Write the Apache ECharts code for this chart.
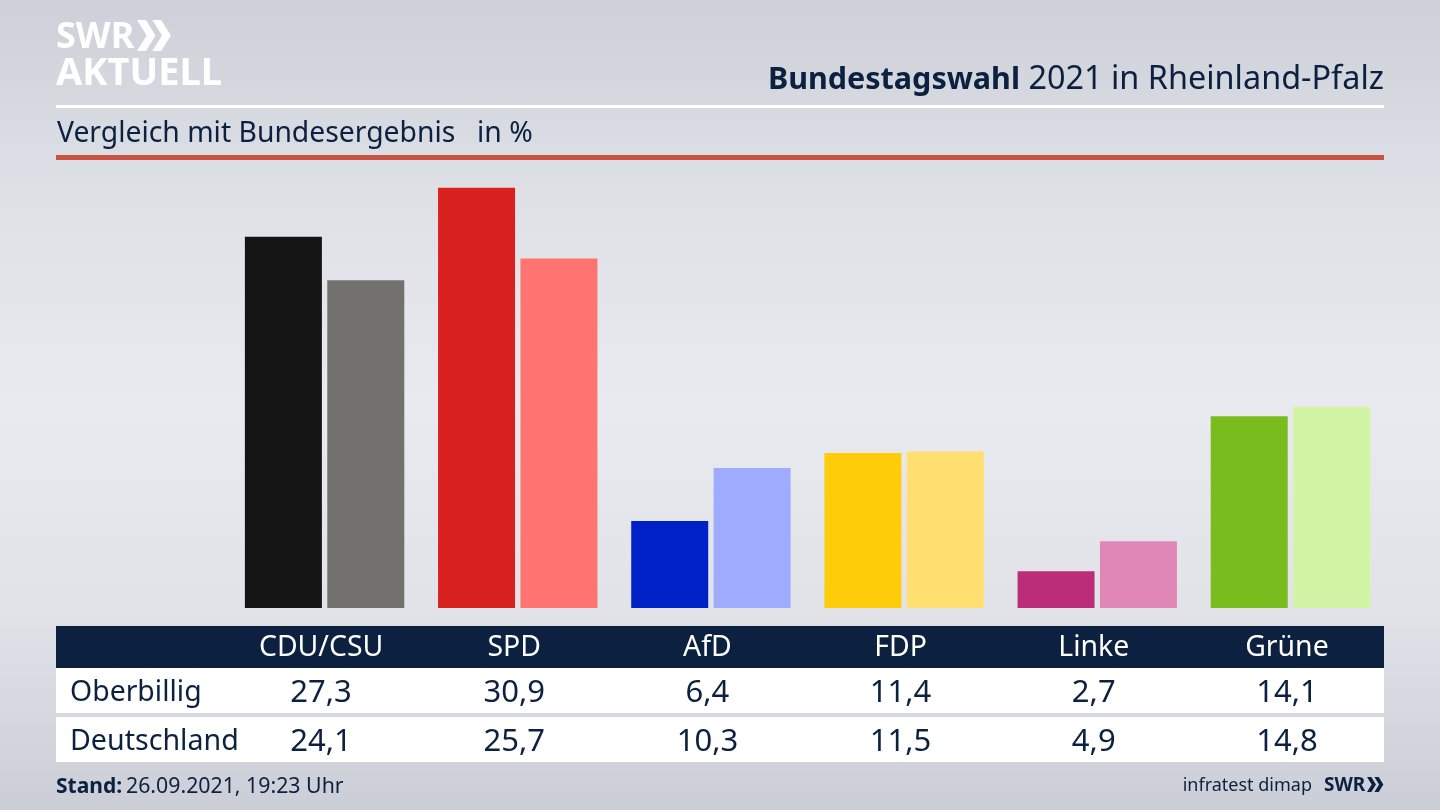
<!DOCTYPE html>
<html lang="de">

<head>
    <meta charset="UTF-8">
    <title>Bundestagswahl 2021 in Rheinland-Pfalz</title>
    <style>
        html, body { margin: 0; padding: 0; width: 100%; height: 100%; overflow: hidden; }
    </style>
</head>

<body>
    <div id="main" style="width: 1440px;height:810px;"></div>
    <script src="https://cdn.jsdelivr.net/npm/echarts@6/dist/echarts.min.js"></script>
    <script>
    var parties = ['CDU/CSU', 'SPD', 'AfD', 'FDP', 'Linke', 'Grüne'];
    var oberbillig = [27.3, 30.9, 6.4, 11.4, 2.7, 14.1];
    var deutschland = [24.1, 25.7, 10.3, 11.5, 4.9, 14.8];
    var colorsOberbillig = ['#141414', '#d8201f', '#0020c8', '#ffcc0a', '#bc2d78', '#78bc1e'];
    var colorsDeutschland = ['#73716e', '#ff7370', '#9eabff', '#ffdf70', '#e087b7', '#d2f5a5'];

    var font = '"Noto Sans", sans-serif';
    var navy = '#0c2040';

    function comma(v) {
        return v.toFixed(1).replace('.', ',');
    }

    function coloured(values, colors) {
        return values.map(function(v, i) {
            return { value: v, itemStyle: { color: colors[i] } };
        });
    }

    // one extra x axis per table row, so the numbers stay under their columns
    function tableAxis(labels, offset, color, size) {
        return {
            type: 'category',
            gridIndex: 1,
            position: 'bottom',
            offset: offset,
            data: labels,
            axisLine: { show: false },
            axisTick: { show: false },
            axisLabel: {
                margin: 0,
                interval: 0,
                color: color,
                fontFamily: font,
                fontSize: size,
                lineHeight: 40,
                height: 40,
                verticalAlign: 'top'
            }
        };
    }

    function rect(x, y, w, h, color) {
        return { type: 'rect', z: 0, shape: { x: x, y: y, width: w, height: h }, style: { fill: color } };
    }

    function label(x, y, text, size, color, opts) {
        opts = opts || {};
        return {
            type: 'text', z: 10, x: x, y: y,
            style: {
                text: text,
                fill: color,
                fontFamily: font,
                fontSize: size,
                fontWeight: opts.bold ? 'bold' : 'normal',
                align: opts.align || 'left',
                verticalAlign: 'middle'
            }
        };
    }

    function chevrons(x, y, h, color) {
        var w = h * 0.52;
        return [0, 1].map(function(n) {
            var px = x + n * w * 0.95;
            return {
                type: 'polygon', z: 10,
                shape: { points: [[px, y], [px + w * 0.55, y], [px + w * 1.15, y + h / 2], [px + w * 0.55, y + h], [px, y + h], [px + w * 0.6, y + h / 2]] },
                style: { fill: color }
            };
        });
    }

    var myChart = echarts.init(document.getElementById('main'));

    var option = {
        animation: false,
        backgroundColor: {
            type: 'linear', x: 0, y: 0, x2: 0, y2: 1,
            colorStops: [
                { offset: 0, color: '#cdd0d8' },
                { offset: 0.25, color: '#dfe1e7' },
                { offset: 0.5, color: '#e9eaf0' },
                { offset: 0.75, color: '#e1e3e9' },
                { offset: 1, color: '#cbced6' }
            ]
        },
        // bars sit 3.5px right of the table columns in the original
        grid: [
            { left: 228, width: 1159, top: 159.2, height: 448.8 },
            { left: 224.5, width: 1159, top: 159.2, height: 448.8 }
        ],
        xAxis: [
            {
                type: 'category',
                data: parties,
                axisLine: { show: false },
                axisTick: { show: false },
                axisLabel: { show: false }
            },
            tableAxis(parties, 20, '#ffffff', 28.4),
            tableAxis(oberbillig.map(comma), 65, navy, 31),
            tableAxis(deutschland.map(comma), 114, navy, 31)
        ],
        yAxis: [
            { type: 'value', min: 0, max: 33, show: false },
            { type: 'value', gridIndex: 1, min: 0, max: 33, show: false }
        ],
        series: [
            {
                name: 'Oberbillig',
                type: 'bar',
                barWidth: 77,
                barGap: '7%',
                data: coloured(oberbillig, colorsOberbillig)
            },
            {
                name: 'Deutschland',
                type: 'bar',
                barWidth: 77,
                barGap: '7%',
                data: coloured(deutschland, colorsDeutschland)
            }
        ],
        graphic: [
            rect(56, 105, 1328, 3, '#ffffff'),
            rect(56, 155, 1328, 5, '#c9513f'),
            rect(56, 626, 1328, 42, navy),
            rect(56, 668, 1328, 45, '#ffffff'),
            rect(56, 717, 1328, 45, '#ffffff'),
            label(56, 38, 'SWR', 36, '#ffffff', { bold: true }),
            label(56, 74, 'AKTUELL', 38, '#ffffff', { bold: true }),
            label(1384, 80, '2021 in Rheinland-Pfalz', 32.4, navy, { align: 'right' }),
            label(1020, 80, 'Bundestagswahl', 30.5, navy, { bold: true, align: 'right' }),
            label(57, 134, 'Vergleich mit Bundesergebnis', 28.3, navy),
            label(477, 134, 'in %', 28.3, navy),
            label(70, 693, 'Oberbillig', 28.4, navy),
            label(70, 742, 'Deutschland', 28.6, navy),
            label(56, 787, 'Stand:', 21, navy, { bold: true }),
            label(126, 787, '26.09.2021, 19:23 Uhr', 21.3, navy),
            label(1312, 786, 'infratest dimap', 18, navy, { align: 'right' }),
            label(1324, 786, 'SWR', 19, navy, { bold: true })
        ].concat(chevrons(137, 20, 31, '#ffffff'), chevrons(1367, 777, 15, navy))
    };

    myChart.setOption(option);
    </script>
</body>

</html>
